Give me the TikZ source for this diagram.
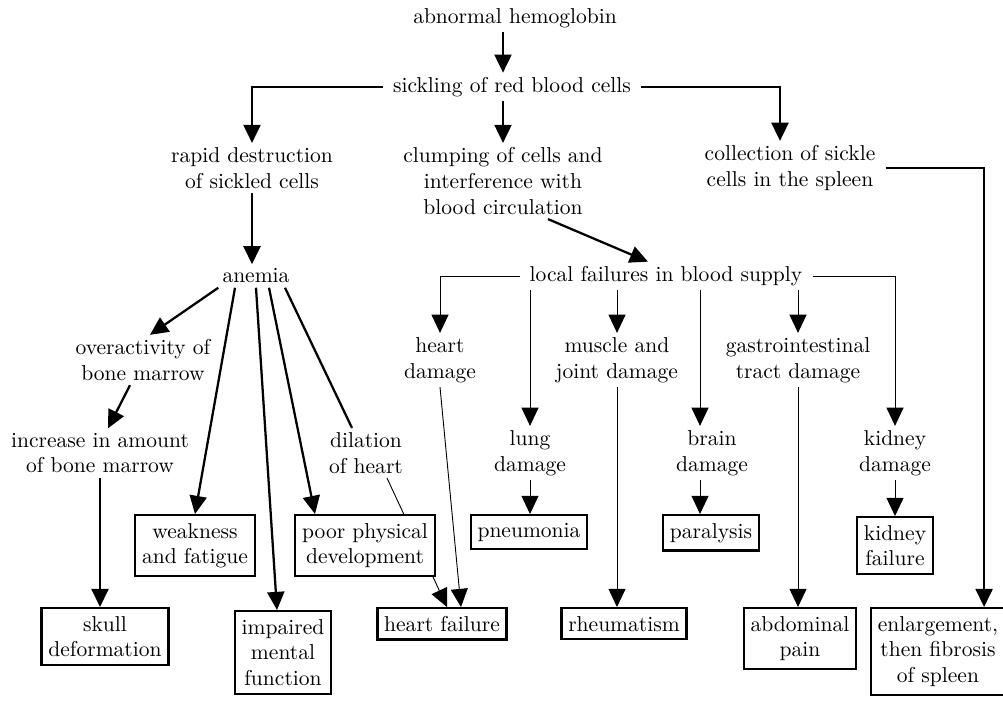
\documentclass[tikz,border=0pt]{standalone}
\usepackage{tikz}
\usetikzlibrary{arrows.meta, calc, backgrounds, positioning}

\tikzset{
    txt/.style={align=center, inner xsep=4pt, inner ysep=1.5pt, font=\fontsize{9.5}{11.4}\selectfont},
    box/.style={txt, draw, fill=white, line width=1pt, inner xsep=3pt, inner ysep=3.5pt, anchor=north},
}

\begin{document}
\begin{tikzpicture}[x=0.0155cm, y=-0.0155cm, line width=1pt, >={Triangle[length=8pt, width=7.5pt]}]
    \useasboundingbox (0,0) rectangle (1003,700);

    % Các nút chữ
    \node[txt] (abn) at (515,18) {abnormal hemoglobin};
    \node[txt] (sick) at (512,87) {sickling of red blood cells};
    \node[txt] (rapid) at (252,168) {rapid destruction\\of sickled cells};
    \node[txt] (clump) at (503,181) {clumping of cells and\\interference with\\blood circulation};
    \node[txt] (coll) at (790,168) {collection of sickle\\cells in the spleen};
    \node[txt] (anemia) at (256,276) {anemia};
    \node[txt] (local) at (666,276) {local failures in blood supply};
    \node[txt] (overact) at (143,360) {overactivity of\\bone marrow};
    \node[txt] (heartd) at (440,360) {heart\\damage};
    \node[txt] (muscle) at (617,360) {muscle and\\joint damage};
    \node[txt] (gastro) at (798,360) {gastrointestinal\\tract damage};
    \node[txt] (incr) at (100,453) {increase in amount\\of bone marrow};
    \node[txt] (dil) at (366,453) {dilation\\of heart};
    \node[txt] (lungd) at (530,453) {lung\\damage};
    \node[txt] (braind) at (712,453) {brain\\damage};
    \node[txt] (kidd) at (895,453) {kidney\\damage};

    % Các hộp kết quả
    \node[box] (weak) at (195,514) {weakness\\and fatigue};
    \node[box] (poor) at (365,514) {poor physical\\development};
    \node[box] (pneu) at (529,514) {pneumonia};
    \node[box] (para) at (711,514) {paralysis};
    \node[box] (kidf) at (895,516) {kidney\\failure};
    \node[box] (skull) at (105,607) {skull\\deformation};
    \node[box] (impair) at (283,610) {impaired\\mental\\function};
    \node[box] (heartf) at (442,607) {heart failure};
    \node[box] (rheum) at (624,607) {rheumatism};
    \node[box] (abdo) at (800,607) {abdominal\\pain};
    \node[box] (spleen) at (938,607) {enlargement,\\then fibrosis\\of spleen};

    % Nhánh trên
    \draw[->] (abn.south -| clump.north) -- (sick.north -| clump.north);
    \draw[->] (sick.west) -| (rapid.north);
    \draw[->] (sick.south -| clump.north) -- (clump.north);
    \draw[->] (sick.east) -| ($(coll.north)+(-10,0)$);
    \draw[->] (coll.east) -| ($(spleen.north east)+(-22,0)$);
    \draw[->] (rapid.south) -- (rapid.south |- anemia.north);
    \draw[->] ($(clump.south)+(45,0)$) -- ($(local.north)+(-18,0)$);

    % Nhánh thiếu máu
    \draw[->] ($(anemia.south west)+(6,0)$) -- ($(overact.north)+(7,0)$);
    \draw[->] ($(overact.south)+(-13,0)$) -- ($(incr.north)+(8,0)$);
    \draw[->] (incr.south) -- (incr.south |- skull.north);
    \draw[->] ($(anemia.south)+(-21,0)$) -- (weak.north);
    \draw[->] (anemia.south) -- ($(impair.north)+(-6,0)$);
    \draw[->] ($(anemia.south)+(13,0)$) -- ($(poor.north)+(-50,0)$);
    \draw ($(anemia.south)+(29,0)$) -- ($(dil.north)+(-14,0)$);
    \begin{pgfonlayer}{background}
        \draw[->] ($(dil.south)+(21,0)$) -- ($(heartf.north)+(5,0)$);
    \end{pgfonlayer}

    % Nhánh thiếu máu cục bộ
    \draw[->] (local.west) -| (heartd.north);
    \draw[->] (local.south -| lungd.north) -- (lungd.north);
    \draw[->] (local.south -| muscle.north) -- (muscle.north);
    \draw[->] ($(local.south -| braind.north)+(-12,0)$) -- ($(braind.north)+(-12,0)$);
    \draw[->] (local.south -| gastro.north) -- (gastro.north);
    \draw[->] (local.east) -| (kidd.north);

    \draw[->] (heartd.south) -- ($(heartf.north)+(19,0)$);
    \draw[->] (lungd.south) -- (lungd.south |- pneu.north);
    \draw[->] (muscle.south) -- (muscle.south |- rheum.north);
    \draw[->] ($(braind.south)+(-12,0)$) -- ($(para.north)+(-11,0)$);
    \draw[->] (gastro.south) -- (gastro.south |- abdo.north);
    \draw[->] (kidd.south) -- (kidd.south |- kidf.north);
\end{tikzpicture}
\end{document}
